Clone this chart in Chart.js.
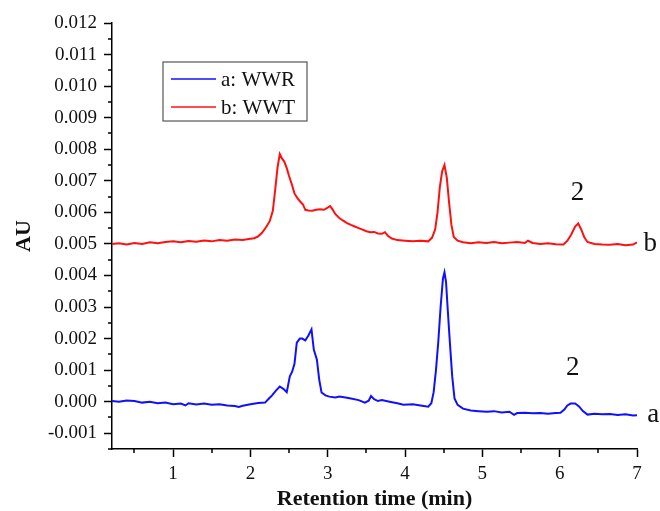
<!DOCTYPE html>
<html>
<head>
<meta charset="utf-8">
<script src="https://cdn.jsdelivr.net/npm/chart.js@4.4.0/dist/chart.umd.min.js"></script>
<style>
  body { margin: 0; background: #fff; }
  #wrap { width: 660px; height: 511px; }
</style>
</head>
<body>
<div id="wrap"><canvas id="chromatogram"></canvas></div>
<script>
// a: WWR (blue)  -- retention time (min) and absorbance (AU)
const timeA = [0.21, 0.3, 0.4, 0.5, 0.6, 0.7, 0.8, 0.9, 1.0, 1.1, 1.16, 1.2, 1.3, 1.4, 1.5, 1.6, 1.7, 1.8, 1.85, 1.9,
  2.0, 2.1, 2.19, 2.24, 2.28, 2.33, 2.38, 2.43, 2.47, 2.51, 2.54, 2.57, 2.6, 2.64, 2.67, 2.71, 2.75, 2.79, 2.82, 2.86,
  2.89, 2.92, 2.97, 3.02, 3.1, 3.15, 3.23, 3.3, 3.4, 3.48, 3.53, 3.56, 3.6, 3.65, 3.7, 3.8, 3.9, 3.98, 4.1, 4.2,
  4.3, 4.34, 4.37, 4.4, 4.43, 4.46, 4.49, 4.51, 4.53, 4.55, 4.58, 4.61, 4.64, 4.68, 4.75, 4.85, 4.95, 5.06, 5.15, 5.25,
  5.35, 5.41, 5.45, 5.55, 5.65, 5.75, 5.85, 5.95, 6.01, 6.06, 6.1, 6.14, 6.2, 6.25, 6.3, 6.36, 6.45, 6.55, 6.65, 6.75,
  6.85, 6.95, 7.0];
const wwr = [0.00002, 0.00000, 0.00004, 0.00002, -0.00003, 0.00000, -0.00005, -0.00003, -0.00008, -0.00006, -0.00012, -0.00005, -0.00009, -0.00006, -0.00010, -0.00008, -0.00012, -0.00014, -0.00017, -0.00013,
  -0.00008, -0.00004, -0.00003, 0.00010, 0.00020, 0.00035, 0.00048, 0.00040, 0.00030, 0.00080, 0.00095, 0.00120, 0.00187, 0.00200, 0.00200, 0.00194, 0.00210, 0.00229, 0.00165, 0.00133,
  0.00070, 0.00029, 0.00020, 0.00016, 0.00013, 0.00016, 0.00013, 0.00010, 0.00005, -0.00003, 0.00003, 0.00018, 0.00008, 0.00002, 0.00005, 0.00000, -0.00005, -0.00010, -0.00008, -0.00012,
  -0.00016, -0.00005, 0.00030, 0.00100, 0.00190, 0.00300, 0.00390, 0.00410, 0.00380, 0.00300, 0.00187, 0.00080, 0.00010, -0.00010, -0.00022, -0.00028, -0.00030, -0.00032, -0.00030, -0.00034,
  -0.00032, -0.00042, -0.00036, -0.00035, -0.00037, -0.00036, -0.00038, -0.00036, -0.00035, -0.00025, -0.00012, -0.00006, -0.00006, -0.00015, -0.00030, -0.00041, -0.00038, -0.00040, -0.00039, -0.00042,
  -0.00040, -0.00044, -0.00043];

// b: WWT (red)
const timeB = [0.21, 0.3, 0.4, 0.5, 0.6, 0.7, 0.8, 0.9, 1.0, 1.1, 1.2, 1.3, 1.4, 1.5, 1.6, 1.7, 1.8, 1.9, 2.0, 2.05,
  2.1, 2.15, 2.2, 2.25, 2.29, 2.32, 2.35, 2.38, 2.41, 2.44, 2.47, 2.5, 2.54, 2.57, 2.6, 2.64, 2.68, 2.71, 2.75, 2.8,
  2.85, 2.9, 2.95, 3.0, 3.03, 3.06, 3.1, 3.15, 3.19, 3.25, 3.3, 3.35, 3.4, 3.45, 3.5, 3.55, 3.6, 3.65, 3.7, 3.74,
  3.78, 3.83, 3.9, 4.0, 4.1, 4.2, 4.3, 4.35, 4.39, 4.42, 4.45, 4.48, 4.51, 4.54, 4.57, 4.6, 4.63, 4.68, 4.75, 4.85,
  4.95, 5.05, 5.15, 5.25, 5.35, 5.45, 5.55, 5.59, 5.65, 5.75, 5.85, 5.95, 6.05, 6.1, 6.15, 6.2, 6.24, 6.28, 6.32, 6.36,
  6.45, 6.55, 6.65, 6.75, 6.85, 6.95, 7.0];
const wwt = [0.00500, 0.00502, 0.00498, 0.00503, 0.00500, 0.00505, 0.00502, 0.00506, 0.00508, 0.00505, 0.00509, 0.00507, 0.00511, 0.00508, 0.00512, 0.00510, 0.00514, 0.00512, 0.00516, 0.00518,
  0.00524, 0.00535, 0.00552, 0.00572, 0.00605, 0.00670, 0.00740, 0.00785, 0.00770, 0.00760, 0.00740, 0.00715, 0.00685, 0.00660, 0.00648, 0.00635, 0.00625, 0.00608, 0.00606, 0.00605,
  0.00608, 0.00610, 0.00608, 0.00615, 0.00620, 0.00610, 0.00594, 0.00582, 0.00575, 0.00566, 0.00560, 0.00555, 0.00550, 0.00545, 0.00540, 0.00537, 0.00538, 0.00533, 0.00532, 0.00537,
  0.00525, 0.00517, 0.00512, 0.00510, 0.00508, 0.00510, 0.00508, 0.00520, 0.00546, 0.00600, 0.00680, 0.00730, 0.00750, 0.00710, 0.00630, 0.00560, 0.00522, 0.00510, 0.00505, 0.00502,
  0.00505, 0.00503, 0.00506, 0.00502, 0.00504, 0.00506, 0.00503, 0.00510, 0.00503, 0.00500, 0.00502, 0.00499, 0.00498, 0.00510, 0.00530, 0.00555, 0.00565, 0.00545, 0.00520, 0.00506,
  0.00500, 0.00498, 0.00497, 0.00500, 0.00496, 0.00498, 0.00505];

const seriesLabels = ['a: WWR', 'b: WWT'];
const seriesColors = ['#1010ff', '#ff1010'];

// text labels placed in data coordinates (time, AU)
const notes = [
  { text: '2', t: 6.23, v: 0.0064 },
  { text: '2', t: 6.17, v: 0.00086 },
  { text: 'b', t: 7.17, v: 0.00476 },
  { text: 'a', t: 7.21, v: -0.00063 }
];

const serif = '"Liberation Serif", "Times New Roman", serif';

function toPoints(xs, ys) {
  return xs.map((x, i) => ({ x: x, y: ys[i] }));
}

// minor ticks, legend box and the peak labels
const extras = {
  id: 'extras',
  afterDraw(chart) {
    const ctx = chart.ctx;
    const xs = chart.scales.x;
    const ys = chart.scales.y;
    const area = chart.chartArea;
    ctx.save();
    ctx.strokeStyle = '#000';
    ctx.lineWidth = 1.5;
    ctx.beginPath();
    for (let v = 0.5; v < 7; v += 1) {
      const px = Math.round(xs.getPixelForValue(v));
      ctx.moveTo(px, area.bottom);
      ctx.lineTo(px, area.bottom + 4);
    }
    for (let k = -3; k <= 23; k += 2) {
      const py = Math.round(ys.getPixelForValue(k * 0.0005));
      ctx.moveTo(area.left, py);
      ctx.lineTo(area.left - 4, py);
    }
    ctx.stroke();

    // legend
    const bx = area.left + 51, by = area.top + 39;
    ctx.strokeStyle = '#555';
    ctx.lineWidth = 1.2;
    ctx.strokeRect(bx, by, 144, 59);
    ctx.font = '21px ' + serif;
    ctx.textBaseline = 'middle';
    ctx.textAlign = 'left';
    seriesLabels.forEach((lab, i) => {
      const ly = by + 17 + i * 28;
      ctx.strokeStyle = seriesColors[i];
      ctx.lineWidth = 1.6;
      ctx.beginPath();
      ctx.moveTo(bx + 8, ly);
      ctx.lineTo(bx + 53, ly);
      ctx.stroke();
      ctx.fillStyle = '#111';
      ctx.fillText(lab, bx + 58, ly + 1);
    });

    ctx.font = '27px ' + serif;
    ctx.textAlign = 'center';
    ctx.textBaseline = 'alphabetic';
    notes.forEach(n => {
      ctx.fillText(n.text, xs.getPixelForValue(n.t), ys.getPixelForValue(n.v));
    });
    ctx.restore();
  }
};

new Chart(document.getElementById('chromatogram').getContext('2d'), {
  type: 'line',
  data: {
    datasets: [
      {
        label: seriesLabels[0],
        data: toPoints(timeA, wwr),
        borderColor: seriesColors[0],
        borderWidth: 2,
        pointRadius: 0,
        tension: 0
      },
      {
        label: seriesLabels[1],
        data: toPoints(timeB, wwt),
        borderColor: seriesColors[1],
        borderWidth: 2,
        pointRadius: 0,
        tension: 0
      }
    ]
  },
  options: {
    responsive: true,
    maintainAspectRatio: false,
    animation: false,
    layout: { padding: { left: 0, top: 23, right: 23, bottom: 0 } },
    plugins: { legend: { display: false }, tooltip: { enabled: false } },
    scales: {
      x: {
        type: 'linear',
        min: 0.21,
        max: 7,
        afterFit: s => { s.height = 62; },
        border: { color: '#000', width: 1.5 },
        grid: { drawOnChartArea: false, tickLength: 8, tickColor: '#000', tickWidth: 1.5 },
        ticks: {
          stepSize: 1,
          includeBounds: false,
          padding: 6,
          color: '#111',
          font: { family: serif, size: 19 },
          callback: v => String(v)
        },
        title: {
          display: true,
          text: 'Retention time (min)',
          color: '#111',
          font: { family: serif, size: 22, weight: 'bold' },
          padding: { top: 0, bottom: -2 }
        }
      },
      y: {
        min: -0.0015,
        max: 0.012,
        afterFit: s => { s.width = 112; },
        border: { color: '#000', width: 1.5 },
        grid: { drawOnChartArea: false, tickLength: 8, tickColor: '#000', tickWidth: 1.5 },
        ticks: {
          stepSize: 0.001,
          includeBounds: false,
          padding: 7,
          color: '#111',
          font: { family: serif, size: 19 },
          callback: v => v.toFixed(3)
        },
        title: {
          display: true,
          text: 'AU',
          color: '#111',
          font: { family: serif, size: 22, weight: 'bold' },
          padding: { top: 11, bottom: 0 }
        }
      }
    }
  },
  plugins: [extras]
});
</script>
</body>
</html>
